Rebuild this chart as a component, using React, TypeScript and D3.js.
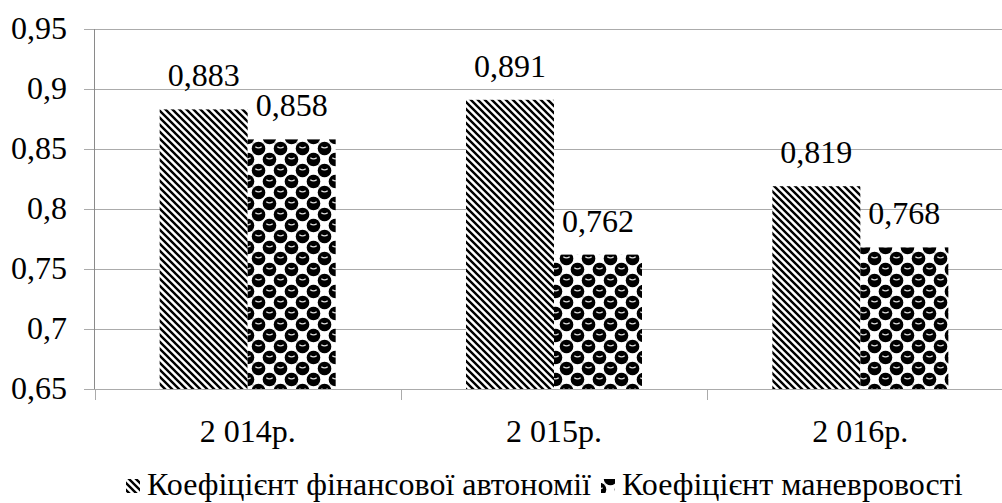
import React from "react";
import * as d3 from "d3";

const categories = ["2 014р.", "2 015р.", "2 016р."];
const seriesNames = ["Коефіцієнт фінансової автономії", "Коефіцієнт маневровості"];
const autonomy = [0.883, 0.891, 0.819];
const maneuver = [0.858, 0.762, 0.768];
const yTicks = [0.65, 0.7, 0.75, 0.8, 0.85, 0.9, 0.95];

const W = 1002;
const H = 503;
const FS = 32;

function T(props: any) {
  const { children, ...rest } = props;
  return (
    <text fontFamily="Liberation Serif" fontSize={FS} fill="#000" style={{ fontFamily: '"Liberation Serif"' }} {...rest}>
      {children}
    </text>
  );
}

export default function App() {
  const values = [autonomy, maneuver];
  const x = d3.scaleBand<string>().domain(categories).range([94.5, 1013.5]).padding(0);
  const bw = x.bandwidth();
  const barW = 88;
  const inner = d3
    .scaleBand<number>()
    .domain([0, 1])
    .range([(bw - 2 * barW) / 2, (bw + 2 * barW) / 2])
    .padding(0);
  const y = d3.scaleLinear().domain([0.65, 0.95]).range([389, 29]);
  const fmt = (v: number) => String(+v.toFixed(3)).replace(".", ",");
  const fmtTick = (v: number) => String(+v.toFixed(2)).replace(".", ",");
  const fills = ["url(#stripes)", "url(#spheres)"];

  const sphereCenters: number[][] = [];
  for (let i = 0; i < 4; i++) {
    for (let j = 0; j < 4; j++) {
      if ((i + j) % 2 === 0) sphereCenters.push([-5.5 + 11 * i, -5.5 + 11 * j]);
    }
  }

  return (
    <svg width={W} height={H} style={{ position: "absolute", left: 0, top: 0, background: "#fff" }}>
      <style>{`text { font-family: "Liberation Serif", serif; }`}</style>
      <defs>
        <pattern id="stripes" patternUnits="userSpaceOnUse" width={7} height={7}>
          <rect width={7} height={7} fill="#fff" />
          <path d="M-1,-1 L8,8 M-4.5,2.5 L4.5,11.5 M2.5,-4.5 L11.5,4.5" stroke="#000" strokeWidth={2.4} />
        </pattern>
        <pattern id="spheres" patternUnits="userSpaceOnUse" width={22} height={22}>
          <rect width={22} height={22} fill="#fff" />
          <path d="M0,11 H22 M11,0 V22" stroke="#c8c8c8" strokeWidth={0.8} />
          {sphereCenters.map(([cx, cy], i) => (
            <g key={i}>
              <circle cx={cx} cy={cy} r={6.8} fill="#000" />
              <path
                d={`M${cx - 3.2},${cy - 1.8} Q${cx},${cy + 0.6} ${cx + 3.2},${cy - 1.8}`}
                stroke="#e0e0e0"
                strokeWidth={1.4}
                fill="none"
              />
            </g>
          ))}
        </pattern>
      </defs>

      {/* gridlines */}
      {yTicks.map((t) => (
        <line key={t} x1={84} x2={W} y1={Math.round(y(t)) + 0.5} y2={Math.round(y(t)) + 0.5} stroke="#ababab" strokeWidth={1} />
      ))}
      {/* y axis */}
      <line x1={94.5} x2={94.5} y1={29} y2={389} stroke="#8a8a8a" strokeWidth={1} />
      {/* x ticks */}
      {categories.map((c) => (
        <line key={c} x1={Math.round(x(c)!) + 0.5} x2={Math.round(x(c)!) + 0.5} y1={389} y2={400} stroke="#ababab" strokeWidth={1} />
      ))}

      {/* bars */}
      {categories.map((c, ci) =>
        values.map((vals, si) => {
          const bx = x(c)! + inner(si)!;
          const top = y(vals[ci]);
          return <rect key={`${c}-${si}`} x={bx} y={top} width={barW} height={y(0.65) - top} fill={fills[si]} />;
        })
      )}

      {/* data labels */}
      {categories.map((c, ci) =>
        values.map((vals, si) => (
          <T key={`l-${c}-${si}`} x={x(c)! + inner(si)! + barW / 2} y={y(vals[ci]) - 23} textAnchor="middle">
            {fmt(vals[ci])}
          </T>
        ))
      )}

      {/* y tick labels */}
      {yTicks.map((t) => (
        <T key={`t${t}`} x={67} y={y(t) + 10} textAnchor="end">
          {fmtTick(t)}
        </T>
      ))}

      {/* category labels */}
      {categories.map((c) => (
        <T key={`c${c}`} x={x(c)! + bw / 2} y={442} textAnchor="middle">
          {c}
        </T>
      ))}

      {/* legend */}
      <g>
        <rect x={126} y={479} width={14} height={14} fill={fills[0]} />
        <T x={147} y={495}>{seriesNames[0]}</T>
        <rect x={601} y={479} width={14} height={14} fill={fills[1]} />
        <T x={622} y={495}>{seriesNames[1]}</T>
      </g>
    </svg>
  );
}
